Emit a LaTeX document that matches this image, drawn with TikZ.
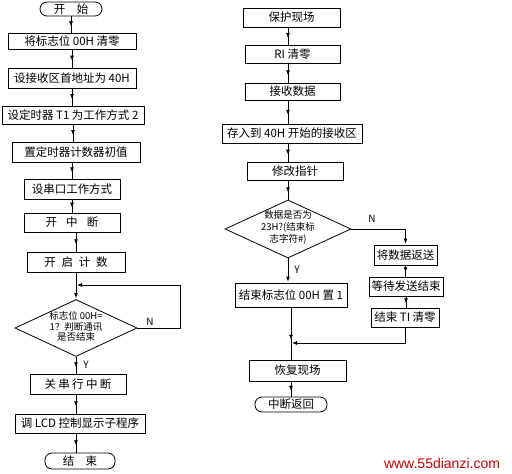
\documentclass[tikz,border=0pt]{standalone}
\usepackage{fontspec}
\setmainfont{Noto Sans CJK SC}
\newfontfamily\wmfont{Liberation Sans}
\usetikzlibrary{shapes.geometric,arrows.meta,decorations.markings}
\begin{document}
\begin{tikzpicture}[x=1pt,y=-1pt,
  box/.style={draw, line width=0.8pt, inner sep=0pt, font=\fontsize{11.5}{13}\selectfont},
  term/.style={box, rounded corners=7pt},
  dia/.style={draw, diamond, line width=0.8pt, inner sep=0pt},
  dtext/.style={align=center, inner sep=0pt, font=\fontsize{9.5}{10.5}\selectfont},
  lbl/.style={inner sep=0pt, font=\fontsize{10}{12}\selectfont},
  flow/.style={line width=0.8pt, postaction={decorate},
    decoration={markings, mark=at position 0.62 with {\arrow{Latex[length=5pt,width=4pt]}}}},
  eflow/.style={line width=0.8pt, -{Latex[length=5pt,width=4pt]}, shorten >=1pt}]
\useasboundingbox (0,0) rectangle (512,474);
% left column
\node[term, minimum width=62pt, minimum height=14pt] (t1) at (71,9) {开\hspace{1em}始};
\node[box, minimum width=128pt, minimum height=16pt] (b1) at (72,41) {将标志位 00H 清零};
\node[box, minimum width=128pt, minimum height=20pt] (b2) at (72,78) {设接收区首地址为 40H};
\node[box, minimum width=142pt, minimum height=18pt] (b3) at (73,115) {设定时器 T1 为工作方式 2};
\node[box, minimum width=128pt, minimum height=20pt] (b4) at (76,152) {置定时器计数器初值};
\node[box, minimum width=96pt, minimum height=20pt] (b5) at (72,189) {设串口工作方式};
\node[box, minimum width=96pt, minimum height=19pt] (b6) at (72,222.5) {开\hspace{0.8em}中\hspace{0.8em}断};
\node[box, minimum width=98pt, minimum height=20pt] (b7) at (76,262) {开\hspace{0.5em}启\hspace{0.5em}计\hspace{0.5em}数};
\node[dia, minimum width=122pt, minimum height=57pt] (d1) at (76,328) {};
\node[dtext] (d1t) at (76,326.5) {标志位 00H=\\1？判断通讯\\是否结束};
\node[box, minimum width=96pt, minimum height=20pt] (b8) at (78,384) {关\hspace{0.2em}串\hspace{0.2em}行\hspace{0.2em}中\hspace{0.2em}断};
\node[box, minimum width=130pt, minimum height=19pt] (b9) at (80,423.5) {调 LCD 控制显示子程序};
\node[term, minimum width=70pt, minimum height=16pt] (t2) at (80,461) {结\hspace{1em}束};
\coordinate (j) at (76,285);
\coordinate (lp) at (180,285);
\node[lbl] (nl) at (150,322) {N};
\node[lbl] (yl) at (86,365) {Y};
% left connectors
\draw[flow] (t1.south) -- (t1.south |- b1.north);
\draw[flow] (b1.south) -- (b1.south |- b2.north);
\draw[flow] (b2.south) -- (b2.south |- b3.north);
\draw[flow] (b3.south) -- (b3.south |- b4.north);
\draw[flow] (b4.south -| b5.north) -- (b5.north);
\draw[flow] (b5.south) -- (b5.south |- b6.north);
\draw[flow] (b6.south -| b7.north) -- (b7.north);
\draw[eflow] (b7.south) -- (d1.north);
\draw[eflow] (d1.east) -| (lp) -- (j);
\draw[flow] (d1.south) -- (d1.south |- b8.north);
\draw[flow] (d1.south |- b8.south) -- (d1.south |- b9.north);
\draw[flow] (d1.south |- b9.south) -- (d1.south |- t2.north);
% right column
\node[box, minimum width=97pt, minimum height=19pt] (r1) at (291.5,17.5) {保护现场};
\node[box, minimum width=95pt, minimum height=18pt] (r2) at (292.5,54) {RI 清零};
\node[box, minimum width=95pt, minimum height=17pt] (r3) at (292.5,91.5) {接收数据};
\node[box, minimum width=140pt, minimum height=19pt] (r4) at (292,133.5) {存入到 40H 开始的接收区};
\node[box, minimum width=96pt, minimum height=18pt] (r5) at (295,171) {修改指针};
\node[dia, minimum width=126pt, minimum height=58pt] (d2) at (288,229) {};
\node[dtext, font=\fontsize{9.5}{12}\selectfont] (d2t) at (288,227) {数据是否为\\23H?(结束标\\志字符\#)};
\node[box, minimum width=63pt, minimum height=20pt] (r6) at (405.5,255) {将数据返送};
\node[box, minimum width=74pt, minimum height=19pt] (r7) at (406,286.5) {等待发送结束};
\node[box, minimum width=68pt, minimum height=19pt] (r8) at (405,317.5) {结束 TI 清零};
\node[box, minimum width=112pt, minimum height=24pt] (r9) at (291,295) {结束标志位 00H 置 1};
\node[box, minimum width=97pt, minimum height=21pt] (r10) at (297.5,370.5) {恢复现场};
\node[term, minimum width=72pt, minimum height=15pt] (t3) at (291,404.5) {中断返回};
\coordinate (m) at (291,343);
\node[lbl] (nr) at (372,219) {N};
\node[lbl] (yr) at (297,270) {Y};
% right connectors
\draw[flow] (r1.south -| 288,0) -- (r2.north -| 288,0);
\draw[flow] (r2.south -| 288,0) -- (r3.north -| 288,0);
\draw[flow] (r3.south -| 288,0) -- (r4.north -| 288,0);
\draw[flow] (r4.south -| 288,0) -- (r5.north -| 288,0);
\draw[flow] (r5.south -| d2.north) -- (d2.north);
\draw[eflow] (d2.east) -| (r6.north);
\draw[flow] (r6.south) -- (r6.south |- r7.north);
\draw[flow] (r7.south) -- (r7.south |- r8.north);
\draw[eflow] (r8.south) |- (m);
\draw[eflow] (d2.south) -- (d2.south |- r9.north);
\draw[flow] (r9.south) -- (r9.south |- r10.north);
\draw[flow] (r9.south |- r10.south) -- (r9.south |- t3.north);
% watermark
\node[inner sep=0pt, text=red!80!black, font=\wmfont\fontsize{14}{16}\selectfont] (wm) at (442,463) {www.55dianzi.com};
\end{tikzpicture}
\end{document}
